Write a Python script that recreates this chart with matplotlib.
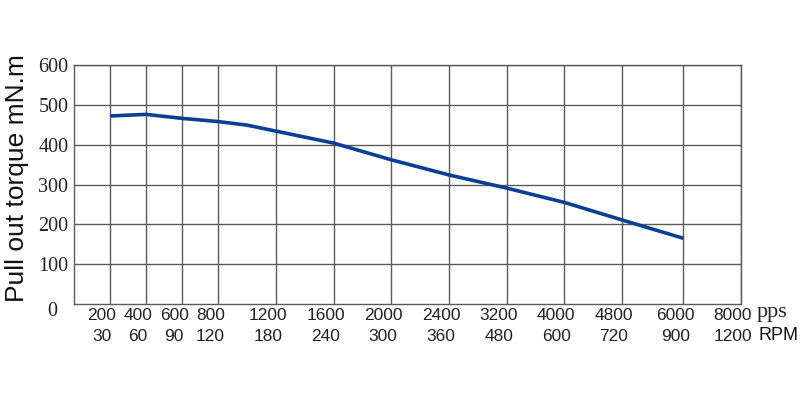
import numpy as np
import matplotlib.pyplot as plt
from matplotlib.transforms import ScaledTranslation

# tick marks on the speed axis (pps) and matching RPM
pps_ticks = [0, 200, 400, 600, 800, 1200, 1600, 2000, 2400, 3200, 4000, 4800, 6000, 8000]
rpm_ticks = [0, 30, 60, 90, 120, 180, 240, 300, 360, 480, 600, 720, 900, 1200]
# the chart spaces the ticks unevenly: slot position of each tick
tick_slots = [0, 1, 2, 3, 4, 5.6, 7.2, 8.8, 10.4, 12, 13.6, 15.2, 16.9, 18.5]

# pull-out torque curve (mN.m)
speed_pps = [200, 400, 600, 800, 1000, 1600, 2000, 2400, 3200, 4000, 4800, 6000]
torque = [472, 476, 466, 458, 449, 404, 362, 324, 291, 255, 211, 165]

y_ticks = [100, 200, 300, 400, 500, 600]


def fwd(x):
    return np.interp(x, pps_ticks, tick_slots)


def inv(x):
    return np.interp(x, tick_slots, pps_ticks)


fig = plt.figure(figsize=(8, 4), dpi=100)
ax = fig.add_axes([74 / 800, 96 / 400, 667 / 800, 239 / 400])
ax.set_xscale('function', functions=(fwd, inv))
ax.set_xlim(0, 8000)
ax.set_ylim(0, 600)

ax.plot(speed_pps, torque, color='#0b3f94', lw=2.6, solid_capstyle='butt', zorder=3)

grid_c = '#5a5a5a'
ax.set_xticks(pps_ticks[1:])
ax.set_yticks(y_ticks)
ax.grid(True, color=grid_c, lw=1.0)
for s in ax.spines.values():
    s.set_color(grid_c)
    s.set_linewidth(1.0)
ax.tick_params(length=0)

ax.set_xticklabels(['%d\n%d' % (p, r) for p, r in zip(pps_ticks[1:], rpm_ticks[1:])],
                   family='Liberation Sans', fontsize=12.5, linespacing=1.5,
                   color='#222222')
shift = ScaledTranslation(-8 / 100, 1 / 100, fig.dpi_scale_trans)
for lab in ax.get_xticklabels():
    lab.set_transform(lab.get_transform() + shift)

ax.set_yticklabels([str(v) for v in y_ticks], family='Liberation Serif', fontsize=14.5,
                   color='#222222')
ax.tick_params(axis='y', pad=4)

fig.text(52 / 800, 1 - 312 / 400, '0', family='Liberation Serif', fontsize=14.5,
         ha='center', va='center', color='#222222')
fig.text(757 / 800, 1 - 312 / 400, 'pps', family='Liberation Serif', fontsize=16,
         ha='left', va='center', color='#222222')
fig.text(759 / 800, 1 - 335 / 400, 'RPM', family='Liberation Sans', fontsize=13,
         ha='left', va='center', color='#111111')
fig.text(17 / 800, 1 - 178 / 400, 'Pull out torque mN.m', family='Liberation Sans',
         fontsize=19, rotation=90, ha='center', va='center', color='#111111')

fig.savefig('out.png', dpi=100)
